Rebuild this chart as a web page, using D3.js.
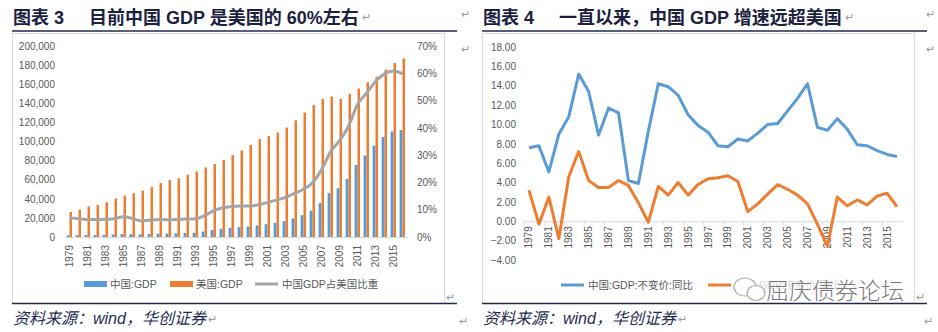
<!DOCTYPE html>
<html>
<head>
<meta charset="utf-8">
<script src="https://cdn.jsdelivr.net/npm/d3@7"></script>
<style>
body { margin: 0; background: #fff; }
svg { display: block; font-family: "Liberation Sans", Arial, "Noto Sans CJK SC", sans-serif; }
.axis text { fill: #595959; font-size: 10px; }
.leg { fill: #595959; font-size: 10.5px; font-family: "Liberation Sans", "Noto Sans CJK SC", sans-serif; }
.title { fill: #1b2240; font-size: 18px; font-weight: bold; font-family: "Liberation Sans", "Noto Sans CJK SC", sans-serif; }
.src { fill: #1f2d55; font-size: 16px; font-style: italic; font-family: "Liberation Sans", "Noto Sans CJK SC", sans-serif; }
.mark { fill: #9a9a9a; font-size: 11px; }
</style>
</head>
<body>
<svg id="chart" width="938" height="332"></svg>
<script>
// categories
const years = [1979, 1980, 1981, 1982, 1983, 1984, 1985, 1986, 1987, 1988,
    1989, 1990, 1991, 1992, 1993, 1994, 1995, 1996, 1997, 1998,
    1999, 2000, 2001, 2002, 2003, 2004, 2005, 2006, 2007, 2008,
    2009, 2010, 2011, 2012, 2013, 2014, 2015, 2016];
const labelYears = [1979, 1981, 1983, 1985, 1987, 1989, 1991, 1993, 1995, 1997,
    1999, 2001, 2003, 2005, 2007, 2009, 2011, 2013, 2015];

// chart 3: GDP, 1e8 USD
const chinaGdp = [1783, 1911, 1959, 2051, 2307, 2599, 3095, 3008, 2729, 3124,
    3478, 3609, 3834, 4269, 4447, 5643, 7345, 8637, 9616, 10290,
    10940, 12113, 13394, 14705, 16603, 19553, 22860, 27521, 35500, 45944,
    51017, 60872, 75515, 85322, 95704, 104756, 110616, 111991];
const usGdp = [26273, 28573, 32073, 33432, 36342, 40372, 43387, 45792, 48550, 52364,
    56410, 59631, 61580, 65200, 68582, 72875, 76394, 80732, 85774, 90629,
    96310, 102523, 105818, 109364, 114582, 122137, 130369, 138149, 144518, 147129,
    144487, 149921, 155426, 161970, 167848, 175217, 182193, 187071];
// China GDP as % of US GDP
const ratio = [7.0, 6.8, 6.4, 6.4, 6.5, 6.7, 7.4, 6.8, 5.9, 6.2,
    6.4, 6.3, 6.4, 6.6, 6.6, 7.8, 9.6, 10.7, 11.2, 11.4,
    11.4, 11.8, 12.7, 13.5, 14.5, 16.0, 17.5, 19.9, 24.6, 31.2,
    35.3, 40.6, 48.6, 52.7, 57.0, 59.8, 60.8, 59.8];

// chart 4: real GDP growth, %
const chinaGrowth = [7.6, 7.8, 5.1, 9.0, 10.8, 15.2, 13.4, 8.9, 11.7, 11.2,
    4.2, 3.9, 9.3, 14.2, 13.9, 13.0, 11.0, 9.9, 9.2, 7.8,
    7.7, 8.5, 8.3, 9.1, 10.0, 10.1, 11.4, 12.7, 14.2, 9.7,
    9.4, 10.6, 9.5, 7.9, 7.8, 7.3, 6.9, 6.7];
const usGrowth = [3.2, -0.3, 2.5, -1.8, 4.6, 7.2, 4.2, 3.5, 3.5, 4.2,
    3.7, 1.9, -0.1, 3.6, 2.7, 4.0, 2.7, 3.8, 4.4, 4.5,
    4.7, 4.1, 1.0, 1.8, 2.8, 3.8, 3.3, 2.7, 1.8, -0.3,
    -2.6, 2.5, 1.6, 2.2, 1.7, 2.6, 2.9, 1.5];

const gdpTicks = [0, 20000, 40000, 60000, 80000, 100000, 120000, 140000, 160000, 180000, 200000];
const pctTicks = [0, 0.1, 0.2, 0.3, 0.4, 0.5, 0.6, 0.7];
const growthTicks = [-4, -2, 0, 2, 4, 6, 8, 10, 12, 14, 16, 18];

const blue = "#5b9bd5", orange = "#ed7d31", gray = "#a5a5a5";

const svg = d3.select("#chart");

// frames, titles, sources
function panel(x0, num, title, titleX, markX) {
    svg.append("rect").attr("x", x0 + 0.5).attr("y", 33.5).attr("width", 432).attr("height", 270)
        .attr("fill", "none").attr("stroke", "#dcdcdc");
    svg.append("line").attr("x1", x0).attr("x2", x0 + 445).attr("y1", 31).attr("y2", 31)
        .attr("stroke", "#1f2b48").attr("stroke-width", 1.5);
    svg.append("line").attr("x1", x0).attr("x2", x0 + 445).attr("y1", 303.5).attr("y2", 303.5)
        .attr("stroke", "#1f2b48").attr("stroke-width", 1.5);
    svg.append("text").attr("class", "title").attr("x", x0 + 1).attr("y", 24).text("图表 " + num);
    let t = svg.append("text").attr("class", "title").attr("x", titleX).attr("y", 24).text(title);
    let w = t.node().getComputedTextLength();
    svg.append("text").attr("class", "mark").attr("x", titleX + w + 3).attr("y", 21).text("↵");
    svg.append("text").attr("class", "mark").attr("x", markX).attr("y", 18).text("↵");
    svg.append("text").attr("class", "mark").attr("x", markX).attr("y", 53).text("↵");
    svg.append("text").attr("class", "mark").attr("x", x0 + 434).attr("y", 301).text("↵");
    let s = svg.append("text").attr("class", "src").attr("x", x0 + 1).attr("y", 324).text("资料来源：wind，华创证券");
    let sw = s.node().getComputedTextLength();
    svg.append("text").attr("class", "mark").attr("x", x0 + 3 + sw).attr("y", 323).text("↵");
    svg.append("text").attr("class", "mark").attr("x", markX - 2).attr("y", 325).text("↵");
}
panel(12, "3", "目前中国 GDP 是美国的 60%左右", 89, 461);
panel(482, "4", "一直以来，中国 GDP 增速远超美国", 559, 926);

// ---------- chart 3 ----------
const xL = d3.scaleBand().domain(years).range([65, 407]).padding(0);
const xSub = d3.scaleBand().domain(["cn", "us"]).range([1.6, 7.4]);
const yL = d3.scaleLinear().domain([0, 200000]).range([237, 46]);
const yR = d3.scaleLinear().domain([0, 0.7]).range([237, 46]);

const g3 = svg.append("g");

g3.append("g").attr("class", "axis").attr("transform", "translate(62,0)")
    .call(d3.axisLeft(yL).tickValues(gdpTicks).tickFormat(d3.format(",")).tickSize(0).tickPadding(7))
    .call(g => g.select(".domain").remove());

g3.append("g").attr("class", "axis").attr("transform", "translate(410,0)")
    .call(d3.axisRight(yR).tickValues(pctTicks).tickFormat(d3.format(".0%")).tickSize(0).tickPadding(7))
    .call(g => g.select(".domain").remove());

g3.append("g").attr("class", "axis").attr("transform", "translate(0,237)")
    .call(d3.axisBottom(xL).tickValues(labelYears).tickSize(0).tickSizeOuter(0))
    .call(g => g.select(".domain").attr("stroke", "#d9d9d9"))
    .call(g => g.selectAll("text").attr("transform", "rotate(-90)")
        .attr("text-anchor", "end").attr("x", -8).attr("y", 0).attr("dy", "0.35em"));

g3.append("g").selectAll("rect").data(years).join("rect")
    .attr("x", (d) => xL(d) + xSub("cn"))
    .attr("width", xSub.bandwidth())
    .attr("y", (d, i) => yL(chinaGdp[i]))
    .attr("height", (d, i) => yL(0) - yL(chinaGdp[i]))
    .attr("fill", blue);

g3.append("g").selectAll("rect").data(years).join("rect")
    .attr("x", (d) => xL(d) + xSub("us"))
    .attr("width", xSub.bandwidth() - 0.4)
    .attr("y", (d, i) => yL(usGdp[i]))
    .attr("height", (d, i) => yL(0) - yL(usGdp[i]))
    .attr("fill", orange);

const ratioLine = d3.line()
    .x((d, i) => xL(years[i]) + xL.bandwidth() / 2)
    .y((d) => yR(d / 100))
    .curve(d3.curveMonotoneX);
g3.append("path").attr("d", ratioLine(ratio))
    .attr("fill", "none").attr("stroke", gray).attr("stroke-width", 3);

// legend
const leg3 = g3.append("g");
leg3.append("rect").attr("x", 84).attr("y", 281).attr("width", 23).attr("height", 6).attr("fill", blue);
leg3.append("text").attr("class", "leg").attr("x", 110).attr("y", 288).text("中国:GDP");
leg3.append("rect").attr("x", 170).attr("y", 281).attr("width", 23).attr("height", 6).attr("fill", orange);
leg3.append("text").attr("class", "leg").attr("x", 196).attr("y", 288).text("美国:GDP");
leg3.append("line").attr("x1", 255).attr("x2", 278).attr("y1", 284).attr("y2", 284)
    .attr("stroke", gray).attr("stroke-width", 3);
leg3.append("text").attr("class", "leg").attr("x", 282).attr("y", 288).text("中国GDP占美国比重");

// ---------- chart 4 ----------
const xR = d3.scaleBand().domain(years).range([524, 902]).padding(0);
const yG = d3.scaleLinear().domain([-4, 18]).range([260, 47]);

const g4 = svg.append("g");

g4.append("g").attr("class", "axis").attr("transform", "translate(522,0)")
    .call(d3.axisLeft(yG).tickValues(growthTicks).tickFormat(d3.format(".2f")).tickSize(0).tickPadding(6))
    .call(g => g.select(".domain").remove());

g4.append("g").attr("class", "axis").attr("transform", "translate(0," + yG(0) + ")")
    .call(d3.axisBottom(xR).tickValues(labelYears).tickSize(0).tickSizeOuter(0))
    .call(g => g.select(".domain").attr("stroke", "#d9d9d9"))
    .call(g => g.selectAll("text").attr("transform", "rotate(-90)")
        .attr("text-anchor", "end").attr("x", -5).attr("y", 0).attr("dy", "0.35em"));

// tick marks at the left edge of every labelled category
g4.append("g").selectAll("line").data(labelYears).join("line")
    .attr("x1", (d) => xR(d) + 0.5).attr("x2", (d) => xR(d) + 0.5)
    .attr("y1", yG(0)).attr("y2", yG(0) + 4)
    .attr("stroke", "#d9d9d9");

const growthLine = d3.line()
    .x((d, i) => xR(years[i]) + xR.bandwidth() / 2)
    .y((d) => yG(d));
g4.append("path").attr("d", growthLine(usGrowth))
    .attr("fill", "none").attr("stroke", orange).attr("stroke-width", 3).attr("stroke-linejoin", "round");
g4.append("path").attr("d", growthLine(chinaGrowth))
    .attr("fill", "none").attr("stroke", blue).attr("stroke-width", 3).attr("stroke-linejoin", "round");

const leg4 = g4.append("g");
leg4.append("line").attr("x1", 561).attr("x2", 584).attr("y1", 285).attr("y2", 285)
    .attr("stroke", blue).attr("stroke-width", 3);
leg4.append("text").attr("class", "leg").attr("x", 588).attr("y", 289).text("中国:GDP:不变价:同比");
leg4.append("line").attr("x1", 708).attr("x2", 731).attr("y1", 285).attr("y2", 285)
    .attr("stroke", orange).attr("stroke-width", 3);
leg4.append("text").attr("class", "leg").attr("x", 735).attr("y", 289).text("美国:GDP:不变价:同比");

// watermark
const wm = svg.append("g");
wm.append("rect").attr("x", 740).attr("y", 276).attr("width", 170).attr("height", 26)
    .attr("fill", "#fff").attr("opacity", 0.75);
wm.append("ellipse").attr("cx", 745).attr("cy", 287).attr("rx", 11).attr("ry", 9)
    .attr("fill", "#fff").attr("stroke", "#aaa").attr("stroke-width", 1.2);
wm.append("ellipse").attr("cx", 756).attr("cy", 293).attr("rx", 9).attr("ry", 7.5)
    .attr("fill", "#fff").attr("stroke", "#aaa").attr("stroke-width", 1.2);
wm.append("text").attr("x", 766).attr("y", 299)
    .attr("font-family", "Noto Sans CJK SC").attr("font-weight", 300).attr("font-size", 23)
    .attr("fill", "#7a7a7a").text("屈庆债券论坛");
</script>
</body>
</html>
